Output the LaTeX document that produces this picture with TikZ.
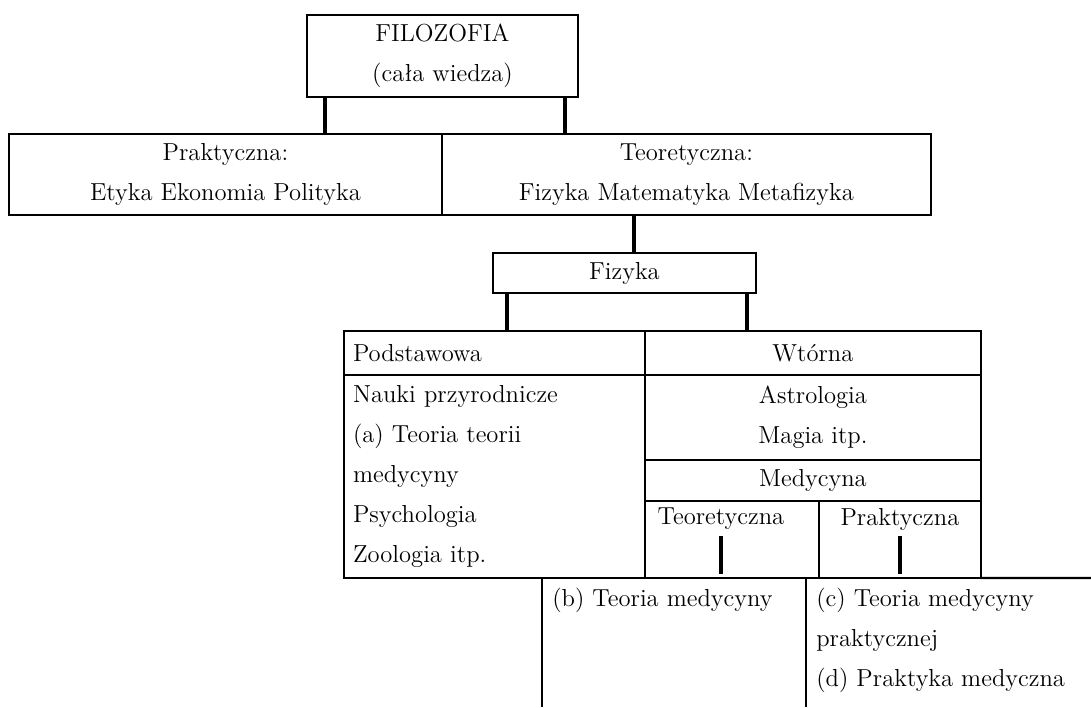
\documentclass[tikz,border=0pt]{standalone}
\usepackage{fontspec}
\usetikzlibrary{positioning}

\begin{document}
\begin{tikzpicture}[x=0.02cm, y=-0.02cm,
                font=\fontsize{14}{22.8}\selectfont,
                blk/.style={draw, line width=1.35pt, outer sep=0pt, inner sep=0pt,
                            align=center},
                lblk/.style={blk, align=left, inner xsep=0.18cm, text width=5.66cm},
                conn/.style={line width=1.9pt},
                edge/.style={line width=1.35pt},
                txt/.style={inner sep=0pt, align=left, anchor=north west}]
                \useasboundingbox (0,0) rectangle (1091,707);
                \node[blk, anchor=north west, minimum width=5.42cm, minimum height=1.64cm] (filo) at (307,15) {FILOZOFIA\\(cała wiedza)};
                \node[blk, anchor=north west, minimum width=8.66cm, minimum height=1.62cm] (prak) at (9,134) {Praktyczna:\\Etyka Ekonomia Polityka};
                \node[blk, right=0pt of prak, minimum width=9.78cm, minimum height=1.62cm] (teor) {Teoretyczna:\\Fizyka Matematyka Metafizyka};
                \node[blk, anchor=north west, minimum width=5.26cm, minimum height=0.8cm] (fiz) at (493,253) {Fizyka};
                \node[lblk, anchor=north west, minimum height=0.88cm] (podst) at (344,331) {Podstawowa};
                \node[lblk, below=0pt of podst, minimum height=4.06cm] (nauki) {Nauki przyrodnicze\\(a) Teoria teorii\\medycyny\\Psychologia\\Zoologia itp.};
                \node[blk, right=0pt of podst, minimum width=6.72cm, minimum height=0.88cm] (wtor) {Wtórna};
                \node[blk, below=0pt of wtor, minimum width=6.72cm, minimum height=1.7cm] (astro) {Astrologia\\Magia itp.};
                \node[blk, below=0pt of astro, minimum width=6.72cm, minimum height=0.82cm] (med) {Medycyna};
                \node[blk, anchor=north west, minimum width=3.48cm, minimum height=1.54cm] (teo) at (med.south west) {};
                \node[blk, right=0pt of teo, minimum width=3.24cm, minimum height=1.54cm] (prk) {};
                \node (teoL) at ([xshift=-0.22cm, yshift=-0.36cm]teo.north) {Teoretyczna};
                \node (prkL) at ([yshift=-0.36cm]prk.north) {Praktyczna};
                \coordinate (f1) at ([xshift=0.36cm]filo.south west);
                \coordinate (f2) at ([xshift=-0.26cm]filo.south east);
                \coordinate (t1) at ([xshift=0.19cm]fiz.north);
                \coordinate (z1) at ([xshift=0.28cm]fiz.south west);
                \coordinate (z2) at ([xshift=-0.18cm]fiz.south east);
                \draw[conn] (f1) -- (f1 |- prak.north);
                \draw[conn] (f2) -- (f2 |- teor.north);
                \draw[conn] (t1 |- teor.south) -- (t1);
                \draw[conn] (z1) -- (z1 |- podst.north);
                \draw[conn] (z2) -- (z2 |- wtor.north);
                \draw[conn, shorten >=0.08cm] (teoL.south) -- (teoL.south |- teo.south);
                \draw[conn, shorten >=0.08cm] (prkL.south) -- (prkL.south |- prk.south);
                \coordinate (rEnd) at (1091,578);
                \coordinate (b1) at (542,578);
                \coordinate (b2) at (806,578);
                \coordinate (bot) at (0,707);
                \draw[edge] (prk.south east) -- (rEnd);
                \draw[edge] (b1) -- (b1 |- bot);
                \draw[edge] (b2) -- (b2 |- bot);
                \node[txt] (teoB) at ([xshift=0.2cm, yshift=-0.2cm]b1) {(b) Teoria medycyny};
                \node[txt] (prkB) at ([xshift=0.2cm, yshift=-0.2cm]b2) {(c) Teoria medycyny\\praktycznej\\(d) Praktyka medyczna};
            \end{tikzpicture}
\end{document}
